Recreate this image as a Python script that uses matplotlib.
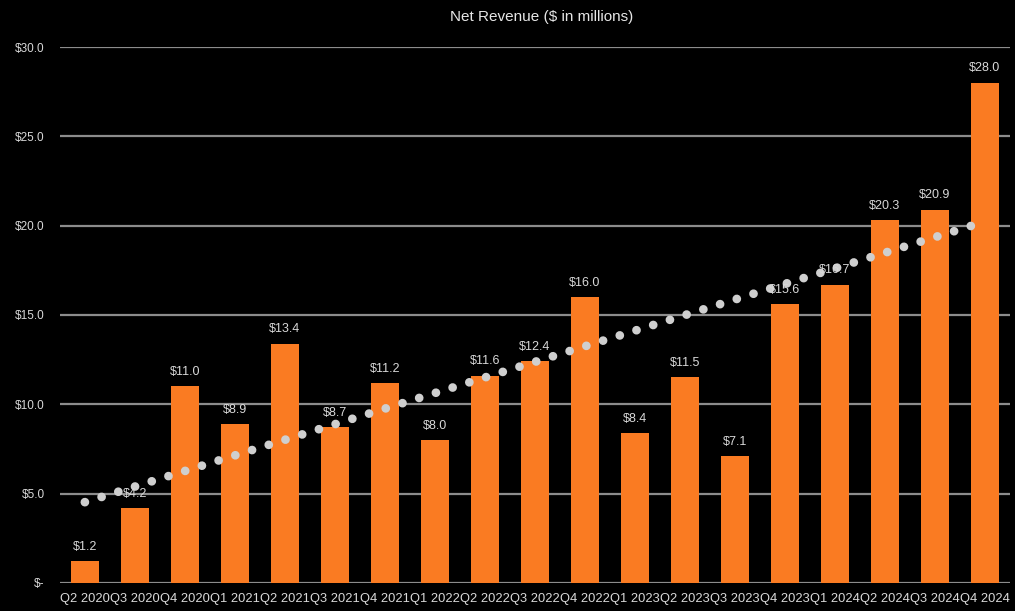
import numpy as np
import matplotlib.pyplot as plt

# quarterly net revenue, $ in millions
quarters = ['Q2 2020', 'Q3 2020', 'Q4 2020', 'Q1 2021', 'Q2 2021', 'Q3 2021', 'Q4 2021',
            'Q1 2022', 'Q2 2022', 'Q3 2022', 'Q4 2022', 'Q1 2023', 'Q2 2023', 'Q3 2023',
            'Q4 2023', 'Q1 2024', 'Q2 2024', 'Q3 2024', 'Q4 2024']
revenue = [1.2, 4.2, 11.0, 8.9, 13.4, 8.7, 11.2, 8.0, 11.6, 12.4, 16.0, 8.4, 11.5, 7.1,
           15.6, 16.7, 20.3, 20.9, 28.0]
yticks = [0, 5, 10, 15, 20, 25, 30]

plt.rcParams['font.family'] = ['Liberation Sans', 'DejaVu Sans']

fig = plt.figure(figsize=(10.15, 6.11), dpi=100, facecolor='black')
ax = fig.add_axes([0.059, 0.046, 0.936, 0.877], facecolor='black')

x = np.arange(len(quarters))
bars = ax.bar(x, revenue, width=0.55, color='#FA7B22', zorder=2)

# linear trendline through the quarterly values
slope, intercept = np.polyfit(x, revenue, 1)
ax.plot(x, slope * x + intercept, color='#CFCFCF', lw=6.3,
        linestyle=(0, (0.001, 2.0)), dash_capstyle='round', zorder=3)

for b, v in zip(bars, revenue):
    ax.annotate(f'${v:.1f}', (b.get_x() + b.get_width() / 2, v),
                xytext=(0, 6), textcoords='offset points', ha='center', va='bottom',
                color='#D9D9D9', fontsize=9, zorder=4)

ax.set_xlim(-0.5, len(quarters) - 0.5)
ax.set_ylim(0, 30)
ax.set_yticks(yticks)
ax.set_yticklabels(['$-' if t == 0 else f'${t:.1f}' for t in yticks])
ax.set_xticks(x)
ax.set_xticklabels(quarters)
ax.tick_params(axis='both', length=0, colors='#D9D9D9')
ax.tick_params(axis='x', pad=7, labelsize=9.3)
ax.tick_params(axis='y', pad=11, labelsize=8.5)

ax.grid(axis='y', color='#8C8C8C', lw=1.6, zorder=0)
ax.set_axisbelow(True)
for s in ax.spines.values():
    s.set_visible(False)

fig.text(0.534, 0.972, 'Net Revenue ($ in millions)', ha='center', va='center',
         color='#E6E6E6', fontsize=11)

fig.savefig('out.png', dpi=100, facecolor='black')
